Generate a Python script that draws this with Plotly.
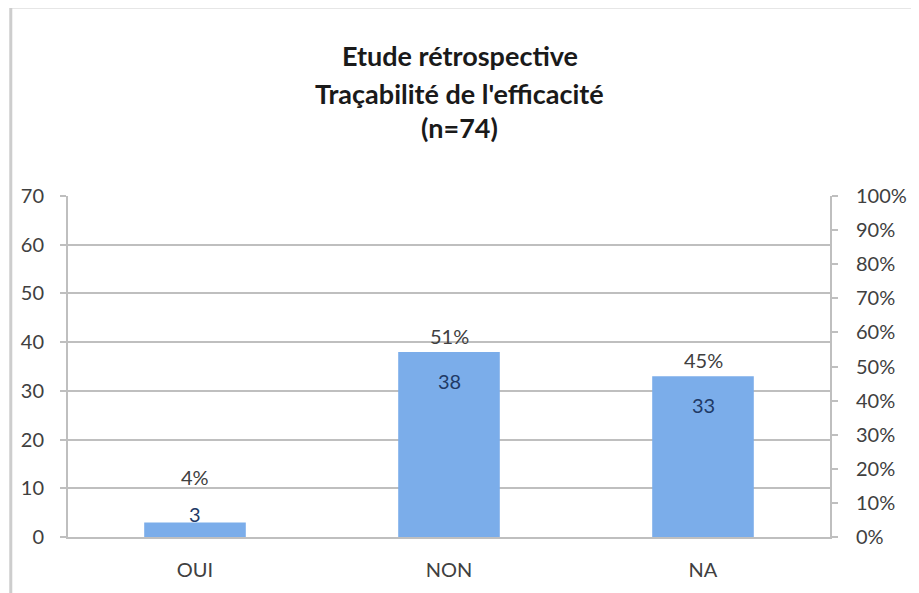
import plotly.graph_objects as go

categories = ["OUI", "NON", "NA"]
counts = [3, 38, 33]
total = 74
pct_labels = ["4%", "51%", "45%"]
pct_values = [c / total for c in counts]

title_lines = ["Etude rétrospective", "Traçabilité de l'efficacité", "(n=74)"]
left_ticks = [0, 10, 20, 30, 40, 50, 60, 70]
right_ticks = [i / 10 for i in range(11)]

FONT = "Lato"
GRID = "#bfbfbf"
TXT = "#404040"

fig = go.Figure()
fig.add_trace(go.Bar(
    x=categories, y=counts,
    marker=dict(color="#7badea", line=dict(width=0)),
    width=0.4, hoverinfo="x+y", showlegend=False,
))
# invisible trace to anchor the secondary (percentage) axis
fig.add_trace(go.Scatter(
    x=categories, y=pct_values, yaxis="y2", mode="markers",
    marker=dict(opacity=0), hoverinfo="skip", showlegend=False,
))

annotations = []
for cat, v, p in zip(categories, counts, pct_labels):
    inside = v > 10
    annotations.append(dict(
        x=cat, y=v, xref="x", yref="y", text=str(v), showarrow=False,
        yshift=-29 if inside else 8, yanchor="middle",
        font=dict(family=FONT, size=20, color="#1f3a66"),
    ))
    annotations.append(dict(
        x=cat, y=v, xref="x", yref="y", text=p, showarrow=False,
        yshift=16 if inside else 45, yanchor="middle",
        font=dict(family=FONT, size=20, color=TXT),
    ))

title_y = [1.413, 1.302, 1.202]
for line, yy in zip(title_lines, title_y):
    annotations.append(dict(
        x=0.514, y=yy, xref="paper", yref="paper", text="<b>%s</b>" % line,
        showarrow=False, yanchor="middle", xanchor="center",
        font=dict(family=FONT, size=27, color="#1a1a1a"),
    ))

# the page body adds an 8px margin, so the figure is 8px smaller on each
# axis and the plot area keeps the reference position in the window
fig.update_layout(
    width=911, height=585,
    margin=dict(l=60, r=79, t=188, b=56),
    paper_bgcolor="white", plot_bgcolor="white",
    font=dict(family=FONT, size=20, color=TXT),
    bargap=0.6,
    annotations=annotations,
    shapes=[dict(
        type="rect", xref="paper", yref="paper",
        x0=-0.0751, x1=1.3, y0=-0.4, y1=1.554,
        line=dict(color="#cdcdcd", width=3), layer="below",
    )],
    xaxis=dict(
        showgrid=False, showline=True, linecolor=GRID, linewidth=2,
        ticks="", ticklabelstandoff=14,
        tickfont=dict(family=FONT, size=20, color=TXT),
    ),
    yaxis=dict(
        range=[0, 70], tickvals=left_ticks,
        showgrid=True, gridcolor=GRID, gridwidth=2,
        showline=True, linecolor=GRID, linewidth=2,
        ticks="outside", ticklen=6, tickcolor=GRID, tickwidth=2,
        ticklabelstandoff=12, zeroline=False,
        tickfont=dict(family=FONT, size=20, color=TXT),
    ),
    yaxis2=dict(
        overlaying="y", side="right", range=[0, 1], tickvals=right_ticks,
        tickformat=".0%", showgrid=False,
        showline=True, linecolor=GRID, linewidth=2,
        ticks="outside", ticklen=6, tickcolor=GRID, tickwidth=2,
        ticklabelstandoff=14, zeroline=False,
        tickfont=dict(family=FONT, size=20, color=TXT),
    ),
)

fig.write_html("out.html")
